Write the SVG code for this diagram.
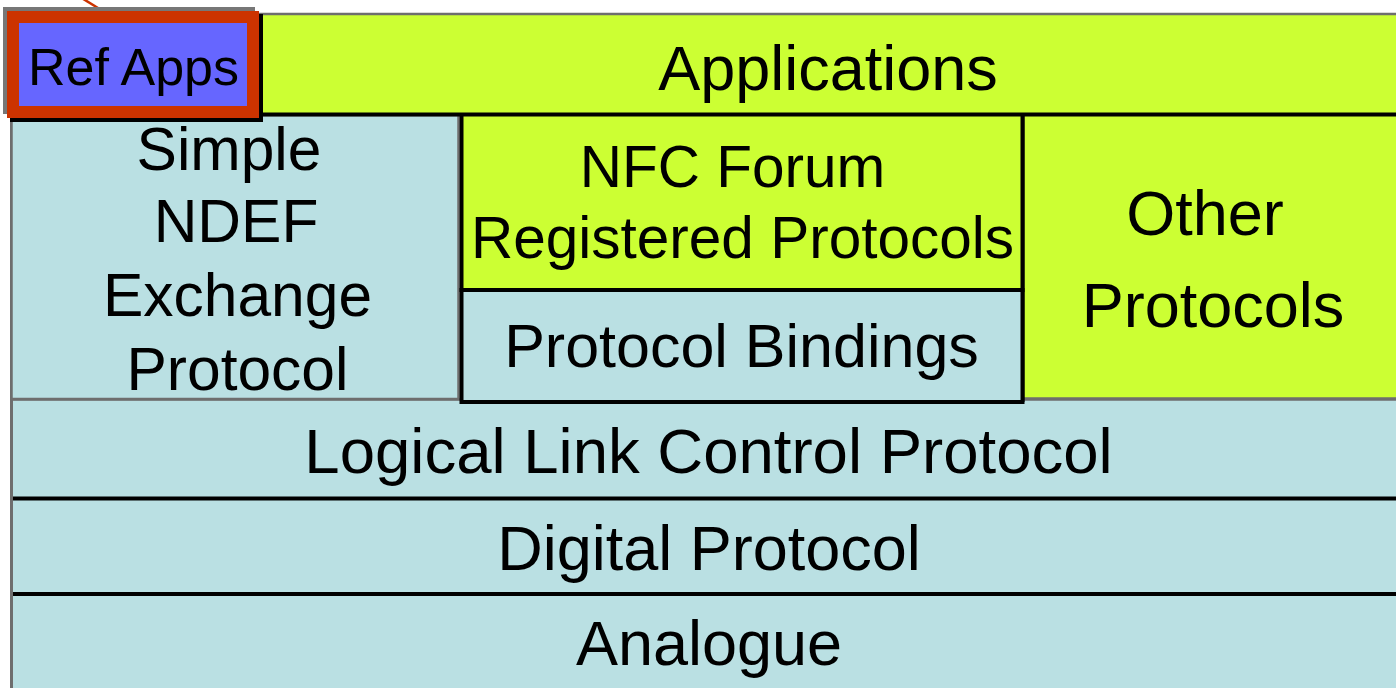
<svg xmlns="http://www.w3.org/2000/svg" width="1396" height="688" viewBox="0 0 1396 688">
<style>
.t{font-family:"Liberation Sans",Arial,sans-serif;fill:#000;text-anchor:middle}
.y{fill:#CCFF33}
.b{fill:#BAE0E3}
.k{stroke:#000;stroke-width:4;fill:none}
.g{stroke:#6E6E6E;stroke-width:2.5;fill:none}
.e{stroke:#6E6E6E;stroke-width:3;fill:none}
</style>
<rect width="1396" height="688" fill="#fff"/>
<g id="analogue">
<rect class="b" x="12" y="594" width="1400" height="100"/>
<text class="t" x="709" y="665" font-size="63">Analogue</text>
</g>
<g id="digital">
<rect class="b" x="12" y="498" width="1400" height="96"/>
<text class="t" x="709" y="570" font-size="63">Digital Protocol</text>
</g>
<g id="llcp">
<rect class="b" x="12" y="399" width="1400" height="99"/>
<line class="g" x1="12" y1="399.5" x2="1400" y2="399.5"/>
<text class="t" x="708.5" y="473" font-size="63.5">Logical Link Control Protocol</text>
</g>
<g id="separators">
<line class="k" x1="12" y1="498.5" x2="1400" y2="498.5"/>
<line class="k" x1="12" y1="594" x2="1400" y2="594"/>
<line class="e" x1="11.5" y1="14" x2="11.5" y2="700"/>
</g>
<g id="snep">
<rect class="b" x="12" y="115" width="446.5" height="284"/>
<rect class="g" x="11.5" y="115" width="447" height="284"/>
<text class="t" x="229" y="170" font-size="60.5">Simple</text>
<text class="t" x="236" y="242" font-size="60.5">NDEF</text>
<text class="t" x="237.5" y="316" font-size="60.5">Exchange</text>
<text class="t" x="237.5" y="390" font-size="60.5">Protocol</text>
</g>
<g id="other">
<rect class="y" x="1022.5" y="114" width="400" height="284"/>
<line class="g" x1="1022.5" y1="398.5" x2="1400" y2="398.5"/>
<line class="k" x1="1022.5" y1="114" x2="1022.5" y2="402"/>
<text class="t" x="1205" y="235" font-size="63">Other</text>
<text class="t" x="1213" y="327" font-size="63">Protocols</text>
</g>
<g id="bindings">
<rect class="b" x="461.5" y="290" width="561" height="112"/>
<rect class="k" x="461.5" y="290" width="561" height="112"/>
<text class="t" x="741.5" y="367" font-size="61">Protocol Bindings</text>
</g>
<g id="nfc">
<rect class="y" x="461.5" y="114" width="561" height="176"/>
<rect class="k" x="461.5" y="114" width="561" height="176"/>
<text class="t" x="732.5" y="187" font-size="58.5">NFC Forum</text>
<text class="t" x="742.5" y="258" font-size="58.5">Registered Protocols</text>
</g>
<g id="applications">
<rect class="y" x="259" y="14" width="1150" height="100"/>
<line class="g" x1="259" y1="14" x2="1400" y2="14"/>
<line class="k" x1="259" y1="114.5" x2="1400" y2="114.5"/>
<text class="t" x="828" y="90" font-size="63">Applications</text>
</g>
<g id="connectors">
<line x1="80" y1="-3" x2="98" y2="8" stroke="#CC3300" stroke-width="2.5"/>
</g>
<g id="ref-apps">
<rect x="3" y="7" width="252" height="107" fill="#777"/>
<rect x="10" y="14" width="253" height="108" fill="#000"/>
<rect x="13" y="17" width="240" height="95" fill="#6666FF" stroke="#CC3300" stroke-width="12"/>
<text class="t" x="133.5" y="85" font-size="52">Ref Apps</text>
</g>
</svg>
